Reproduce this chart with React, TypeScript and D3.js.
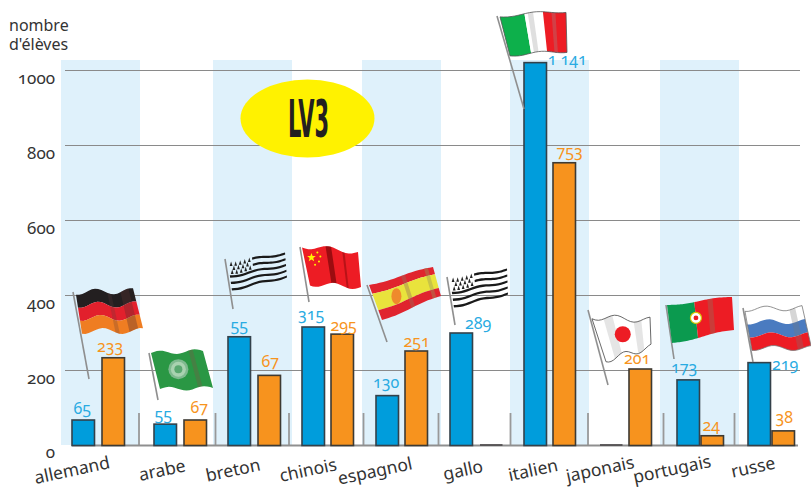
import React from "react";
import * as d3 from "d3";

const categories = ["allemand","arabe","breton","chinois","espagnol","gallo","italien","japonais","portugais","russe"];
const blueBars = [68,57,290,316,133,300,1021,3,175,221];
const orangeBars = [234,68,187,297,252,3,754,204,26,39];
const blueLabels = ["65","55","55","315","130","289","1 141","","173","219"];
const orangeLabels = ["233","67","67","295","251","","753","201","24","38"];
const yTicks = [0,200,400,600,800,1000];

// layout nudges (pixels)
const catNudge = [-8,0,0,0,0,0,0,2,5,2];
const orangeGap = [30,30,30,29,29,30,29,29,24,24];
const blueLabelDx = [-1,-2,0,-2,-1,17,32,0,-4,26];
const orangeLabelDx = [-3,4,1,1.5,0.5,0,5.5,-3,-1,1];
const blueLabelGap = [6,4,6,7,8,4,-2,0,7,-7];
const orangeLabelGap = [6,7,8,3,4,0,6,5,5,8];
const catLabelX = [72,162,233,308,375,463,533,600,672,753];
const catLabelY = [470,470,470,470,471,470,470,469,469,467];
const separators = [139,215.5,289,363.5,438.5,510.5,588,663.5,734.5];
const stripes = [[61,140],[213,292],[362,441],[510,589],[660,739]];

type P = [number,number];
type Band = {u:[number,number];v:[number,number];fill:string;stroke?:string};
type Flag = {pole:[P,P];c:[P,P,P,P];amp:number;freq:number;phase:number;bands:Band[];folds?:[number,number,string][];outline?:string;extra?:string};

const hBands=(cols:string[]):Band[]=>cols.map((fill,i)=>({u:[0,1],v:[i/cols.length,(i+1)/cols.length],fill}));
const breton=():Band[]=>{
  const out:Band[]=[];
  for(let i=0;i<9;i++){
    if(i===0||i===2) out.push({u:[0.42,1],v:[i/9+0.015,(i+1)/9-0.015],fill:"#1a1a1a"});
    else if(i>=4&&i%2===0) out.push({u:[0,1],v:[i/9+0.015,(i+1)/9-0.015],fill:"#1a1a1a"});
  }
  return out;
};
const flags:Flag[]=[
 {pole:[[73,292],[89,379]],c:[[76,292],[133,291],[143,331],[82,331]],amp:3,freq:1.6,phase:0.2,bands:hBands(["#231f20","#e2202c","#ef7d22"]),folds:[[0.55,0.62,"rgba(90,60,60,.25)"],[0.78,0.92,"rgba(90,50,50,.35)"]]},
 {pole:[[149,353],[158,400]],c:[[151,353],[203,351],[213,388],[160,389]],amp:2,freq:1.5,phase:0.5,bands:[{u:[0,1],v:[0,1],fill:"#2a9744"}],folds:[[0.72,0.8,"rgba(120,90,70,.35)"]],extra:"arab"},
 {pole:[[225,259],[233,309]],c:[[228,262],[285,252],[287,278],[232,291]],amp:1,freq:1.5,phase:0,bands:breton(),extra:"ermine"},
 {pole:[[300,247],[309,302]],c:[[302,246],[358,252],[361,287],[310,284]],amp:2.5,freq:1.4,phase:0.1,bands:[{u:[0,1],v:[0,1],fill:"#ed1c24"}],folds:[[0.42,0.52,"rgba(90,0,0,.55)"],[0.72,0.76,"rgba(90,0,0,.35)"]],extra:"china"},
 {pole:[[367,285],[387,342]],c:[[369,285],[433,267],[441,296],[382,320]],amp:1,freq:1,phase:0,bands:[{u:[0,1],v:[0,0.25],fill:"#e0242e"},{u:[0,1],v:[0.25,0.72],fill:"#e9e33c"},{u:[0,1],v:[0.72,1],fill:"#e0242e"}],folds:[[0.5,0.56,"rgba(150,110,90,.4)"],[0.86,0.92,"rgba(150,150,90,.4)"]],extra:"spain"},
 {pole:[[447,277],[455,325]],c:[[450,278],[507,268],[508,295],[454,308]],amp:1,freq:1.5,phase:0,bands:breton(),extra:"ermine"},
 {pole:[[497,16],[524,109]],c:[[500,16],[566,11],[567,51],[510,55]],amp:1.5,freq:1.2,phase:0.1,bands:[{u:[0,0.37],v:[0,1],fill:"#0db04b"},{u:[0.37,0.65],v:[0,1],fill:"#ffffff"},{u:[0.65,1],v:[0,1],fill:"#ed1c24"}],folds:[[0.42,0.5,"rgba(150,150,150,.3)"],[0.78,0.84,"rgba(150,150,150,.3)"]],outline:"#555"},
 {pole:[[588,310],[608,385]],c:[[592,317],[650,320],[651,347],[606,360]],amp:3,freq:1.6,phase:0.1,bands:[{u:[0,1],v:[0,1],fill:"#ffffff"}],folds:[[0.2,0.35,"rgba(180,180,180,.35)"],[0.72,0.85,"rgba(180,180,180,.35)"]],outline:"#444",extra:"japan"},
 {pole:[[666,305],[674,359]],c:[[667,305],[732,297],[734,330],[672,343]],amp:1,freq:1,phase:0,bands:[{u:[0,0.42],v:[0,1],fill:"#0b9a4f"},{u:[0.42,1],v:[0,1],fill:"#ed1c24"}],folds:[[0.62,0.7,"rgba(150,110,90,.4)"]],extra:"portugal"},
 {pole:[[743,308],[753,362]],c:[[745,309],[802,308],[811,348],[752,348]],amp:2.5,freq:1.5,phase:0.2,bands:hBands(["#ffffff","#4a7bc0","#ed1c24"]),folds:[[0.78,0.88,"rgba(120,120,120,.3)"]],outline:"#777"},
];

const bilerp=(f:Flag,u:number,v:number):P=>{
  const [a,b,c,d]=f.c;
  const tx=a[0]+(b[0]-a[0])*u, ty=a[1]+(b[1]-a[1])*u;
  const bx=d[0]+(c[0]-d[0])*u, by=d[1]+(c[1]-d[1])*u;
  const w=f.amp*Math.sin(2*Math.PI*(u*f.freq+f.phase));
  return [tx+(bx-tx)*v, ty+(by-ty)*v+w];
};
const bandPath=(f:Flag,u:[number,number],v:[number,number])=>{
  const n=18, top:P[]=[], bot:P[]=[];
  for(let i=0;i<=n;i++){const t=u[0]+(u[1]-u[0])*i/n;top.push(bilerp(f,t,v[0]));bot.push(bilerp(f,t,v[1]));}
  return d3.line()([...top,...bot.reverse()])+"Z";
};

const FONT="'Noto Sans', sans-serif";
const LINE="#8a8a8a", BLUE="#009ddc", ORANGE="#f7931e";
const BLUET="#29abe2", ORANGET="#f7941d", INK="#333333";

function FlagMark({f}:{f:Flag}){
  const at=(u:number,v:number)=>bilerp(f,u,v);
  const [a,b]=f.pole;
  const dots:React.ReactNode[]=[];
  if(f.extra==="ermine"){
    for(let r=0;r<3;r++)for(let k=0;k<5-(r%2);k++){
      const [x,y]=at(0.05+k*0.08+(r%2)*0.04,0.07+r*0.14);
      dots.push(<path key={`${r}-${k}`} d={`M${x},${y-2.5}L${x+1.4},${y+2}L${x-1.4},${y+2}Z`} fill="#222"/>);
    }
  }
  if(f.extra==="china"){
    const [x,y]=at(0.14,0.22);
    const star=d3.range(10).map(i=>{const r=i%2?1.9:4.6,t=-Math.PI/2+i*Math.PI/5;return [x+r*Math.cos(t),y+r*Math.sin(t)] as P;});
    dots.push(<path key="s" d={d3.line()(star)+"Z"} fill="#fff200"/>);
    [[0.26,0.12],[0.3,0.24],[0.26,0.36],[0.18,0.42]].forEach(([u,v],i)=>{const [px,py]=at(u,v);dots.push(<circle key={i} cx={px} cy={py} r={1} fill="#fff200"/>);});
  }
  if(f.extra==="arab"){
    const [x,y]=at(0.45,0.42);
    dots.push(<circle key="a" cx={x} cy={y} r={10} fill="#7fb98f"/>,<circle key="b" cx={x} cy={y} r={7.5} fill="#a9d2b0"/>,<circle key="c" cx={x} cy={y} r={4} fill="#5aa870"/>);
  }
  if(f.extra==="japan"){
    const [x,y]=at(0.5,0.5);
    dots.push(<circle key="j" cx={x-2} cy={y} r={8} fill="#ed1c24"/>);
  }
  if(f.extra==="spain"){
    const [x,y]=at(0.34,0.5);
    dots.push(<ellipse key="e" cx={x} cy={y} rx={5} ry={8} fill="#ef8a2c"/>);
  }
  if(f.extra==="portugal"){
    const [x,y]=at(0.42,0.44);
    dots.push(<circle key="p" cx={x} cy={y} r={5.5} fill="#fff" stroke="#d9c400" strokeWidth={1.2}/>,<circle key="q" cx={x} cy={y} r={2.4} fill="#ed1c24"/>);
  }
  return <g>
    <line x1={a[0]} y1={a[1]} x2={b[0]} y2={b[1]} stroke="#8f8f8f" strokeWidth={1.6}/>
    {f.bands.map((s,i)=><path key={i} d={bandPath(f,s.u,s.v)} fill={s.fill}/>)}
    {(f.folds||[]).map((s,i)=><path key={i} d={bandPath(f,[s[0],s[1]],[0,1])} fill={s[2]}/>)}
    {f.outline&&<path d={bandPath(f,[0,1],[0,1])} fill="none" stroke={f.outline} strokeWidth={0.8}/>}
    {dots}
  </g>;
}

export default function App(){
  const y=d3.scaleLinear().domain([0,1000]).range([445.5,70.5]);
  const x=d3.scaleBand<string>().domain(categories).range([80,820]).paddingInner(0).paddingOuter(0).align(0);
  const bw=22.5;
  const xb=(i:number)=>(x(categories[i]) as number)+catNudge[i];
  const oldstyle:React.CSSProperties={fontVariantNumeric:"oldstyle-nums",fontFeatureSettings:"'onum'"};
  return <svg width={811} height={490} style={{position:"absolute",left:0,top:0,fontFamily:FONT}}>
    {stripes.map((s,i)=><rect key={i} x={s[0]} y={60} width={s[1]-s[0]} height={385} fill="#dff1fb"/>)}
    {yTicks.filter(t=>t>0).map(t=><line key={t} x1={65} x2={800} y1={y(t)} y2={y(t)} stroke={LINE} strokeWidth={1.2}/>)}
    <ellipse cx={307.5} cy={118.5} rx={67} ry={39} fill="#fff200"/>
    <text x={288} y={137} fontSize={51} fontFamily="'Liberation Sans Narrow','DejaVu Sans Condensed',sans-serif" fontWeight={700} fill="#231f20" textLength={41} lengthAdjust="spacingAndGlyphs">LV3</text>
    {separators.map((s,i)=><line key={i} x1={s} x2={s} y1={413} y2={445} stroke="#999" strokeWidth={1.8}/>)}
    <line x1={72} x2={798} y1={445.5} y2={445.5} stroke="#8f8f8f" strokeWidth={2}/>
    {categories.map((c,i)=><g key={c}>
      <rect x={xb(i)} y={y(blueBars[i])} width={bw} height={y(0)-y(blueBars[i])} fill={i===7?"#231f20":BLUE} stroke={i===7?"none":"#33414a"} strokeWidth={1.6}/>
      <rect x={xb(i)+orangeGap[i]} y={y(orangeBars[i])} width={bw} height={y(0)-y(orangeBars[i])} fill={i===5?"#231f20":ORANGE} stroke={i===5?"none":"#3d3a33"} strokeWidth={1.6}/>
    </g>)}
    {flags.map((f,i)=><FlagMark key={i} f={f}/>)}
    {categories.map((c,i)=><g key={c} fontSize={16} textAnchor="middle" style={oldstyle}>
      {blueLabels[i]&&<text x={xb(i)+bw/2+blueLabelDx[i]} y={y(blueBars[i])-blueLabelGap[i]} fill={BLUET}>{blueLabels[i]}</text>}
      {orangeLabels[i]&&<text x={xb(i)+orangeGap[i]+bw/2+orangeLabelDx[i]} y={y(orangeBars[i])-orangeLabelGap[i]} fill={ORANGET}>{orangeLabels[i]}</text>}
    </g>)}
    {yTicks.map(t=><text key={t} x={55} y={y(t)+(t===0?12:13)} fontSize={17} textAnchor="end" fill={INK} style={oldstyle}>{t}</text>)}
    <text x={9} y={31} fontSize={16} fill={INK}>nombre<tspan x={9} dy={19}>d'élèves</tspan></text>
    {categories.map((c,i)=><text key={c} transform={`translate(${catLabelX[i]},${catLabelY[i]}) rotate(-12)`} dy="0.35em" fontSize={17.5} textAnchor="middle" fill={INK}>{c}</text>)}
  </svg>;
}
